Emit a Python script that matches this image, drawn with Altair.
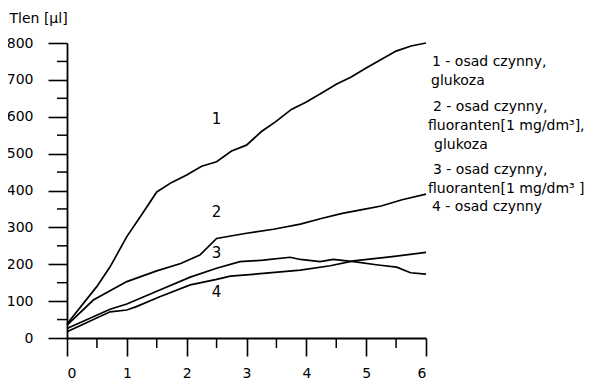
import altair as alt
import pandas as pd

# ---- data ----
x1 = [0, 0.5, 0.72, 1.0, 1.25, 1.5, 1.75, 2.0, 2.25, 2.5, 2.75, 3.0, 3.25, 3.5, 3.75, 4.0, 4.25, 4.5, 4.75, 5.0, 5.25, 5.5, 5.75, 6.0]
y1 = [38, 140, 193, 275, 335, 396, 422, 442, 466, 478, 507, 523, 560, 588, 620, 640, 664, 688, 708, 732, 755, 778, 792, 800]

x2 = [0, 0.44, 1.0, 1.5, 1.9, 2.22, 2.5, 3.0, 3.45, 3.9, 4.25, 4.6, 5.0, 5.25, 5.6, 6.0]
y2 = [35, 103, 153, 182, 202, 225, 270, 284, 295, 309, 324, 338, 350, 358, 375, 390]

x3 = [0, 0.72, 1.0, 1.55, 2.06, 2.5, 2.89, 3.28, 3.73, 3.9, 4.23, 4.45, 4.79, 5.2, 5.51, 5.74, 6.0]
y3 = [26, 78, 92, 130, 165, 189, 207, 211, 219, 213, 207, 213, 207, 198, 192, 177, 173]

x4 = [0, 0.72, 1.0, 1.16, 1.55, 2.06, 2.5, 2.73, 3.28, 3.9, 4.4, 4.79, 5.4, 6.0]
y4 = [17, 71, 76, 85, 112, 144, 159, 168, 175, 184, 196, 209, 220, 232]

series_ids = ["1", "2", "3", "4"]
curve_label_x = [2.5, 2.5, 2.5, 2.5]
curve_label_y = [595, 342, 230, 126]

x_major = [0, 1, 2, 3, 4, 5, 6]
x_minor = [0.5, 1.5, 2.5, 3.5, 4.5, 5.5]
y_major = [0, 100, 200, 300, 400, 500, 600, 700, 800]
y_minor = [50, 150, 250, 350, 450, 550, 650, 750]

y_title = "Tlen [µl]"
legend_lines = [
    "1 - osad czynny,",
    "glukoza",
    "2 - osad czynny,",
    "fluoranten[1 mg/dm³],",
    "glukoza",
    "3 - osad czynny,",
    "fluoranten[1 mg/dm³ ]",
    "4 - osad czynny",
]

# ---- build table ----
rows = []
for sid, xs, ys in zip(series_ids, [x1, x2, x3, x4], [y1, y2, y3, y4]):
    for a, b in zip(xs, ys):
        rows.append({"series": sid, "t": a, "v": b})
df = pd.DataFrame(rows)

FONT = "DejaVu Sans"
W, H = 359, 295

xscale = alt.Scale(domain=[0, 6], nice=False, zero=False)
yscale = alt.Scale(domain=[0, 800], nice=False)

xaxis = alt.Axis(values=x_major, tickSize=18, labelPadding=10, title=None,
                 grid=False, domainColor="black", tickColor="black",
                 domainWidth=1.8, tickWidth=1.6, labelFontSize=14,
                 labelFont=FONT, labelColor="black", format="d")
yaxis = alt.Axis(values=y_major, tickSize=19, labelPadding=15,
                 title=y_title, titleAngle=0, titleAlign="left",
                 titleBaseline="middle", titleX=-58, titleY=-25,
                 titleFont=FONT, titleFontSize=14, titleFontWeight="normal",
                 titleColor="black", grid=False, domainColor="black",
                 tickColor="black", domainWidth=1.8, tickWidth=1.6,
                 labelFontSize=14, labelFont=FONT, labelColor="black")

lines = alt.Chart(df).mark_line(color="black", strokeWidth=1.7).encode(
    x=alt.X("t:Q", scale=xscale, axis=xaxis),
    y=alt.Y("v:Q", scale=yscale, axis=yaxis),
    detail="series:N",
)

yminor = alt.Chart(pd.DataFrame({"m": y_minor})).mark_rule(color="black", strokeWidth=1.5).encode(
    y=alt.Y("m:Q", scale=yscale, axis=yaxis),
    x=alt.value(-10), x2=alt.value(0),
)
xminor = alt.Chart(pd.DataFrame({"m": x_minor})).mark_rule(color="black", strokeWidth=1.5).encode(
    x=alt.X("m:Q", scale=xscale, axis=xaxis),
    y=alt.value(H), y2=alt.value(H + 10),
)

labels_df = pd.DataFrame({"lab": series_ids, "lx": curve_label_x, "ly": curve_label_y})
curve_labels = alt.Chart(labels_df).mark_text(font=FONT, fontSize=15, color="black").encode(
    x=alt.X("lx:Q", scale=xscale, axis=xaxis),
    y=alt.Y("ly:Q", scale=yscale, axis=yaxis),
    text="lab:N",
)

legend_x = [365, 364, 366, 361, 367, 366, 361, 365]
legend_y = [19, 38, 64, 83, 102, 127, 146, 164]
legend_layers = []
for txt, lx, ly in zip(legend_lines, legend_x, legend_y):
    legend_layers.append(
        alt.Chart(pd.DataFrame({"s": [txt]})).mark_text(
            align="left", baseline="middle", font=FONT, fontSize=14, color="black"
        ).encode(x=alt.value(lx), y=alt.value(ly), text="s:N")
    )

chart = alt.layer(lines, yminor, xminor, curve_labels, *legend_layers).properties(
    width=W, height=H,
    autosize=alt.AutoSizeParams(type="none"),
    padding={"left": 59, "top": 35, "right": 162, "bottom": 46},
    background="white",
).configure_view(stroke=None)

chart.save("out.html", embed_options={"renderer": "svg", "actions": False})
